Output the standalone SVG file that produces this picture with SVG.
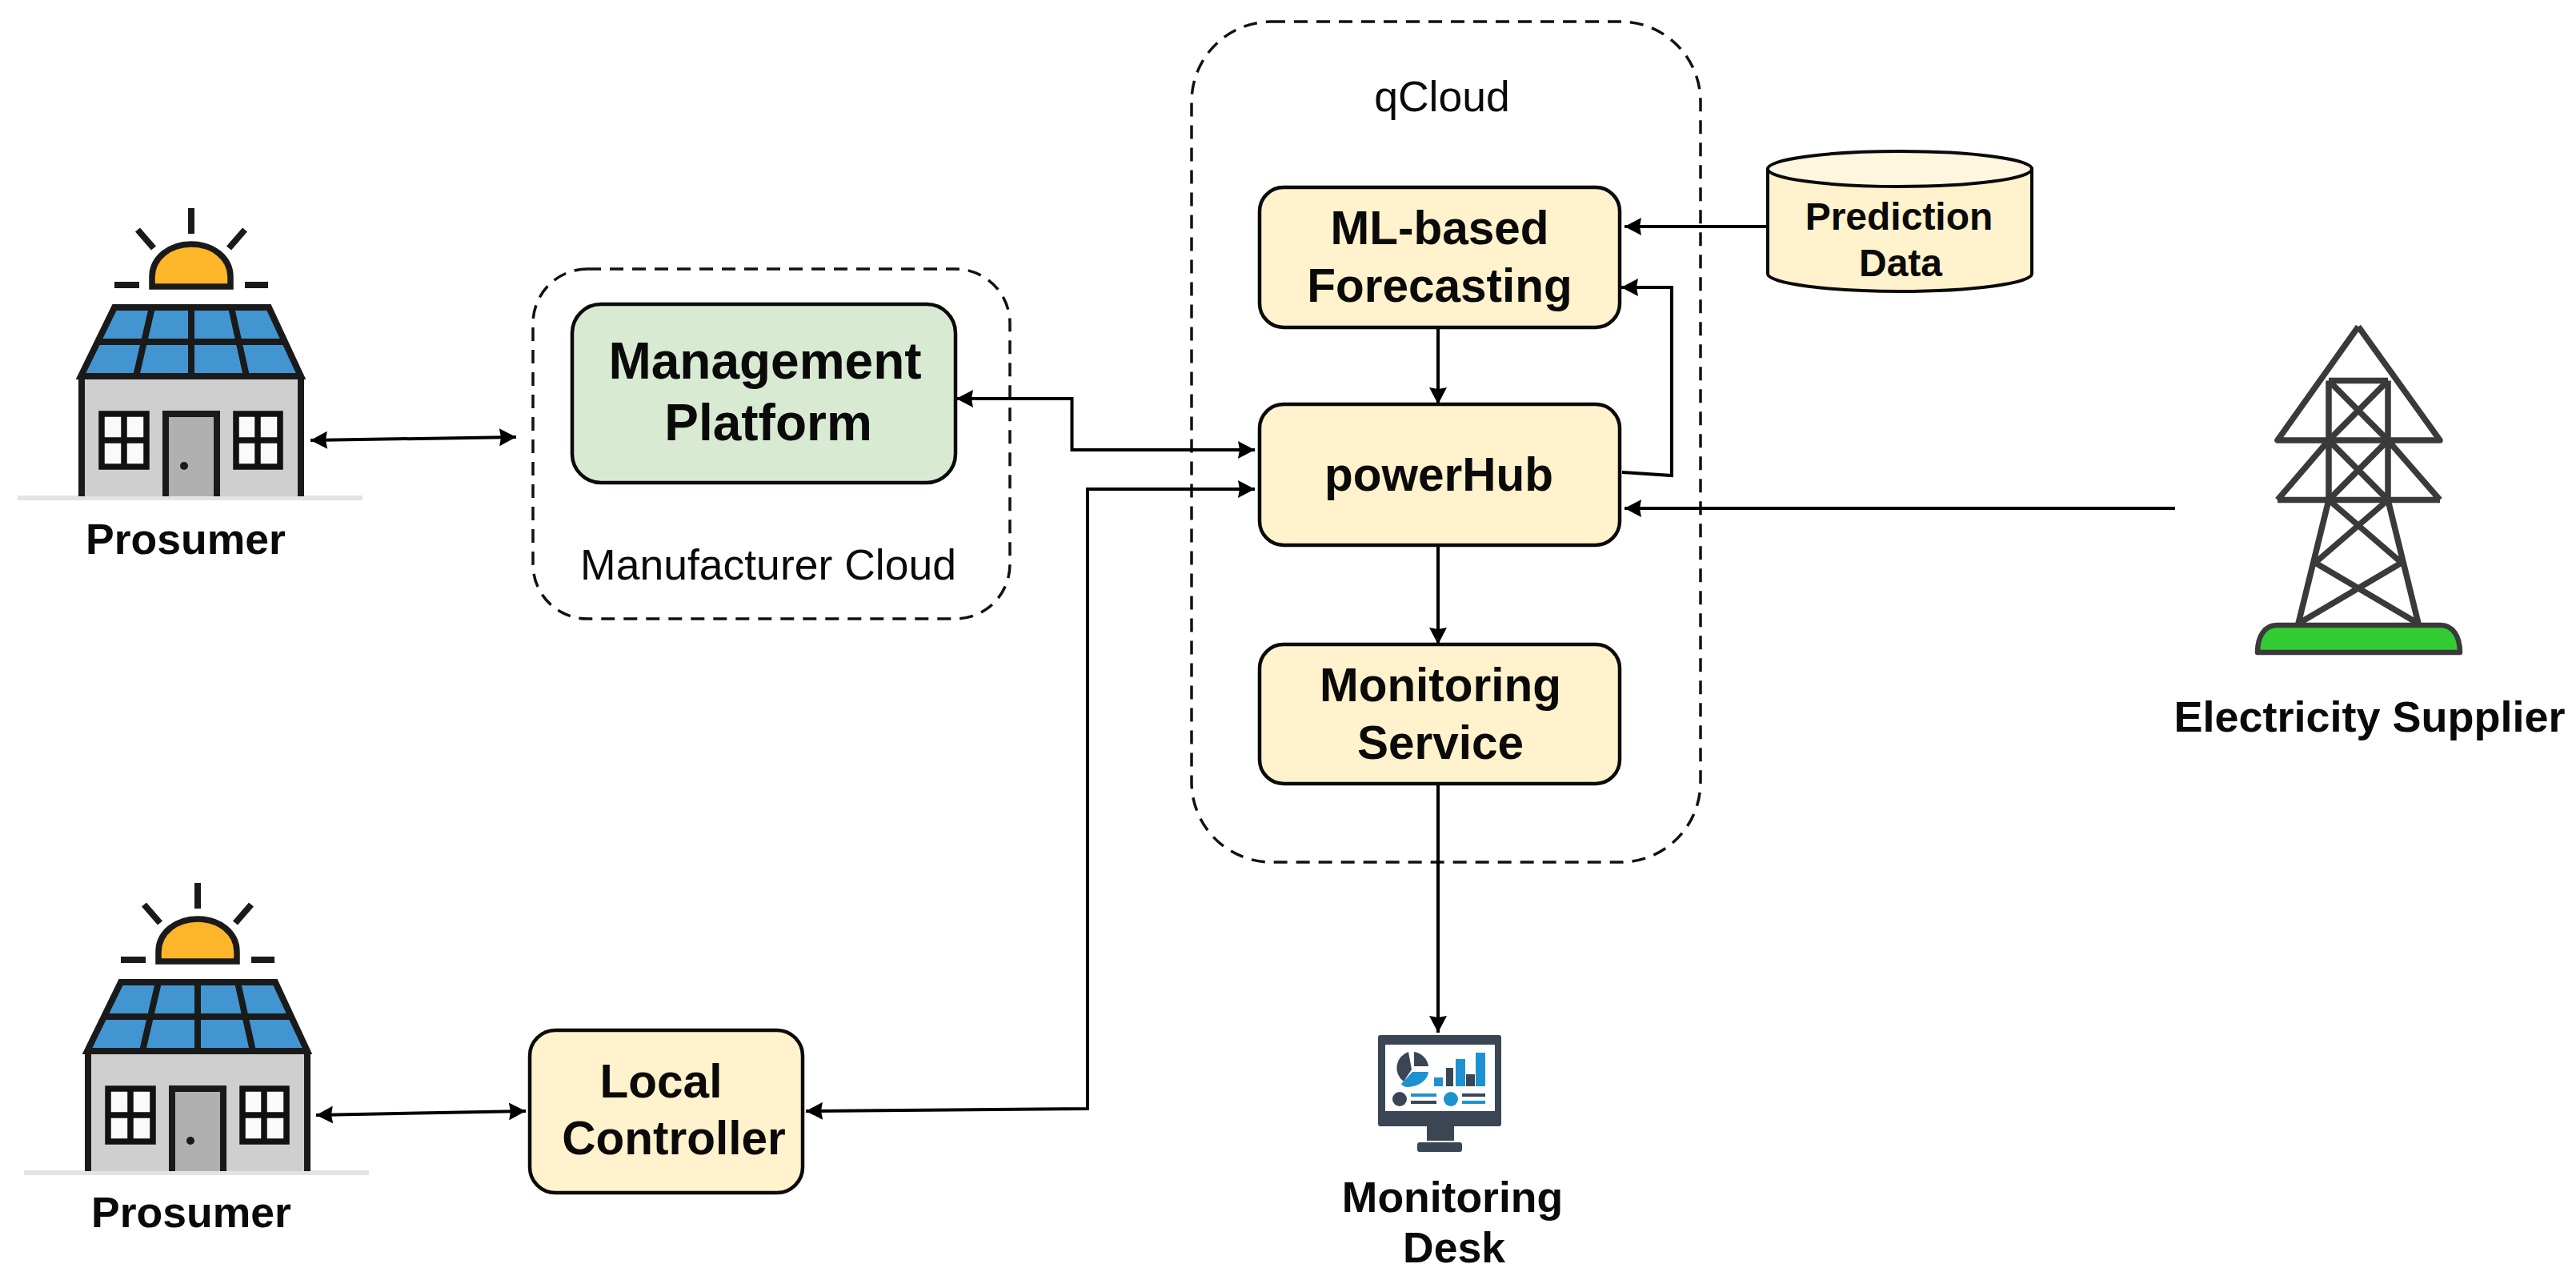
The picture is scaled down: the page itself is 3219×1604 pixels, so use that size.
<svg xmlns="http://www.w3.org/2000/svg" xmlns:xlink="http://www.w3.org/1999/xlink" width="3219" height="1604" viewBox="0 0 3219 1604">
<style>
text{font-family:"Liberation Sans",Arial,sans-serif;fill:#0a0a0a;text-anchor:middle}
.b{font-weight:700}
.s53{font-size:53.5px}.s54{font-size:54px}.s58{font-size:58.5px}.s64{font-size:64px}.s47{font-size:48px}
.box{fill:#fff2cc;stroke:#0a0a0a;stroke-width:4.5}
.green{fill:#d9ead3}
.dash{fill:none;stroke:#111;stroke-width:3.5;stroke-dasharray:17 11}
.c{fill:none;stroke:#000;stroke-width:4}
.ln{fill:none;stroke:#1a1a1a;stroke-width:8}
.tw{fill:none;stroke:#3a3a3a;stroke-width:7.5;stroke-linejoin:round}
.dk{fill:#3b4654}.bl{fill:#1e92d0}
</style>
<defs>
<marker id="a" markerUnits="userSpaceOnUse" markerWidth="24" markerHeight="22" viewBox="0 0 24 22" refX="24" refY="11" orient="auto-start-reverse">
<path d="M3,0 L24,11 L3,22 L5,11 z" fill="#000"/>
</marker>
<g id="house">
<rect x="22" y="619" width="431" height="6" fill="#e3e3e3"/>
<path class="ln" d="M239,260V292M172,287L192,310M306,287L286,310M143,356H174M306,356H335"/>
<path d="M190,358V346C190,322 212,305 239,305C266,305 288,322 288,346V358Z" fill="#fdb52a" stroke="#1a1a1a" stroke-width="7.5"/>
<path d="M102,470H376V620H102Z" fill="#cfcfcf"/>
<path d="M143,383H336L377,470H100Z" fill="#4295d1"/>
<path d="M143,384H336L376,470H101Z M102,470V620M376,470V620M122,427H356M239,384V470M190,384L170,470M289,384L308,470" class="ln"/>
<path d="M207,620V517H271V620" fill="#b0b0b0" stroke="#1a1a1a" stroke-width="8"/>
<circle cx="230" cy="582" r="5" fill="#1a1a1a"/>
<g fill="#fafafa" stroke="#111" stroke-width="7.5">
<path d="M127,517H183V583H127ZM155,517V583M127,550H183"/>
<path d="M295,517H350V583H295ZM322,517V583M295,550H350"/>
</g>
</g>
</defs>
<rect width="3219" height="1604" fill="#fff"/>

<g id="manufacturer-cloud"><rect class="dash" x="666" y="336" width="596" height="437" rx="68" ry="68"/><text class="s53" x="960" y="724">Manufacturer Cloud</text></g>
<g id="qcloud"><rect class="dash" x="1489" y="27" width="636" height="1050" rx="100" ry="100"/><text class="s53" x="1802" y="139">qCloud</text></g>

<g id="connectors">
<path class="c" d="M388,550L645,546" marker-start="url(#a)" marker-end="url(#a)"/>
<path class="c" d="M1195,498H1339.5V562H1568" marker-start="url(#a)" marker-end="url(#a)"/>
<path class="c" d="M1007,1388L1359,1385V611H1568" marker-start="url(#a)" marker-end="url(#a)"/>
<path class="c" d="M395,1393L657,1388" marker-start="url(#a)" marker-end="url(#a)"/>
<path class="c" d="M2210,283H2030" marker-end="url(#a)"/>
<path class="c" d="M2027,590L2089,594V359H2026" marker-end="url(#a)"/>
<path class="c" d="M1797,408V505" marker-end="url(#a)"/>
<path class="c" d="M2718,635H2030" marker-end="url(#a)"/>
<path class="c" d="M1797,680V805" marker-end="url(#a)"/>
<path class="c" d="M1797,979V1290" marker-end="url(#a)"/>
</g>

<g id="prosumer-1"><use href="#house" xlink:href="#house"/><text class="b s53" x="232" y="692">Prosumer</text></g>
<g id="prosumer-2"><use href="#house" xlink:href="#house" transform="translate(8,843)"/><text class="b s53" x="239" y="1533">Prosumer</text></g>

<g id="management-platform"><rect class="box green" x="715" y="380" width="479" height="223" rx="36" ry="36"/><text class="b s64" x="956" y="473">Management</text><text class="b s64" x="960" y="550">Platform</text></g>
<g id="ml-forecasting"><rect class="box" x="1574" y="234" width="450" height="175" rx="30" ry="30"/><text class="b s58" x="1799" y="305">ML-based</text><text class="b s58" x="1799" y="377">Forecasting</text></g>
<g id="powerhub"><rect class="box" x="1574" y="505" width="450" height="176" rx="30" ry="30"/><text class="b s58" x="1798" y="613">powerHub</text></g>
<g id="monitoring-service"><rect class="box" x="1574" y="805" width="450" height="174" rx="30" ry="30"/><text class="b s58" x="1800" y="876">Monitoring</text><text class="b s58" x="1800" y="948">Service</text></g>
<g id="local-controller"><rect class="box" x="662" y="1287" width="341" height="203" rx="32" ry="32"/><text class="b s58" x="826" y="1371">Local</text><text class="b s58" x="842" y="1442">Controller</text></g>

<g id="prediction-data">
<path d="M2209,211V342C2209,354 2284,364 2374,364C2464,364 2539,354 2539,342V211Z" class="box" style="stroke-width:4"/>
<ellipse cx="2374" cy="211" rx="165" ry="22" fill="#fff6e0" stroke="#0a0a0a" stroke-width="4"/>
<text class="b s47" x="2373" y="287">Prediction</text><text class="b s47" x="2375" y="345">Data</text>
</g>

<g id="electricity-supplier">
<path class="tw" d="M2947,408L2846,550H3049L2947,408M2846,624.5H3049M2910,475.5H2984M2910,475.5V624.5M2984,475.5V624.5M2910,550L2846,624.5M2984,550L3049,624.5"/>
<path class="tw" d="M2910,475.5L2984,550M2984,475.5L2910,550M2910,550L2984,624.5M2984,550L2910,624.5M2910,624.5L3001,703M2984,624.5L2893,703M2893,703L3022,779M3001,703L2872,779M2910,624.5L2872,779M2984,624.5L3022,779"/>
<path d="M2821,815C2821,795 2830,781 2845,781H3050C3065,781 3074,795 3074,815Z" fill="#33cc33" stroke="#3a3a3a" stroke-width="6.5" stroke-linejoin="round"/>
<text class="b s54" x="2961" y="914">Electricity Supplier</text>
</g>

<g id="monitoring-desk">
<rect class="dk" x="1722" y="1293" width="154" height="114" rx="3"/>
<rect x="1731" y="1305" width="137" height="83" fill="#fff"/>
<rect class="dk" x="1783" y="1407" width="34" height="18"/>
<rect class="dk" x="1771" y="1427" width="56" height="12" rx="3"/>
<path class="dk" d="M1760,1314A21,21 0 0 0 1754,1351L1764,1336Z"/>
<path class="dk" d="M1767,1314A21,21 0 0 1 1785,1332H1767Z"/>
<path class="bl" d="M1785,1339C1784,1350 1772,1358 1758,1358C1758,1358 1752,1357 1751,1354L1765,1339Z"/>
<rect class="bl" x="1792" y="1346" width="11" height="11"/>
<rect class="dk" x="1807" y="1334" width="9" height="23"/>
<rect class="bl" x="1819" y="1323" width="12" height="34"/>
<rect class="dk" x="1832" y="1342" width="11" height="15"/>
<rect class="bl" x="1844" y="1315" width="12" height="42"/>
<circle class="dk" cx="1749" cy="1373" r="9"/>
<rect class="bl" x="1763" y="1366" width="32" height="4"/>
<rect class="dk" x="1763" y="1375" width="32" height="4"/>
<circle class="bl" cx="1813" cy="1373" r="9"/>
<rect class="dk" x="1827" y="1366" width="29" height="4"/>
<rect class="bl" x="1827" y="1375" width="29" height="4"/>
<text class="b s53" x="1815" y="1514">Monitoring</text><text class="b s53" x="1817" y="1577">Desk</text>
</g>
</svg>
